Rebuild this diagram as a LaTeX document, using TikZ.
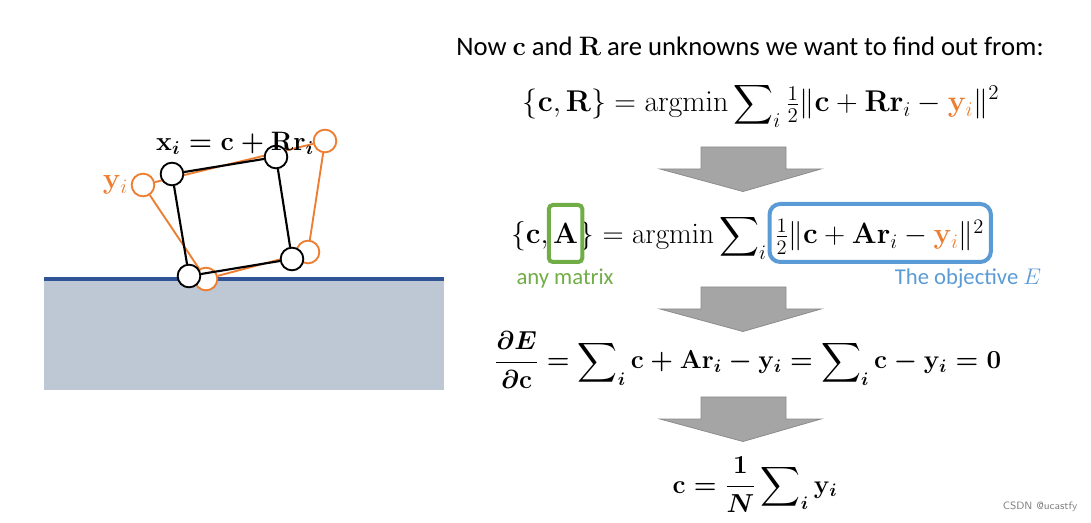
\documentclass[tikz,border=0pt]{standalone}
\usepackage{fix-cm}
\usepackage{amsmath}
\usepackage[no-math]{fontspec}
\setmainfont{Carlito}
\usetikzlibrary{backgrounds,positioning}

\definecolor{orng}{HTML}{ED7D31}
\definecolor{grn}{HTML}{70AD47}
\definecolor{lblue}{HTML}{5B9BD5}
\definecolor{ground}{HTML}{BEC8D4}
\definecolor{groundline}{HTML}{2F5597}
\definecolor{arrowgray}{HTML}{A5A5A5}
\definecolor{arrowedge}{HTML}{8C8C8C}

\tikzset{
  pt/.style={circle,draw,line width=1.4pt,fill=white,minimum size=17,inner sep=0},
  blkpt/.style={pt,draw=black},
  orgpt/.style={pt,draw=orng},
  eq/.style={inner sep=0,font=\fontsize{#1}{26}\selectfont},
  eq/.default=22.5,
  boldeq/.style={inner sep=0,font=\fontsize{#1}{24}\selectfont\boldmath},
  blockarrow/.style={fill=arrowgray,draw=arrowedge,line width=0.6pt},
  markbox/.style={line width=3pt,rounded corners=3pt}
}

\begin{document}
\begin{tikzpicture}[x=0.75pt,y=-0.75pt]
\useasboundingbox (0,0) rectangle (1091,523);

\fill[ground] (44,279) rectangle (444,390);
\draw[groundline,line width=3.5pt] (44,279) -- (444,279);

\node[orgpt] (q1) at (143,185) {};
\node[orgpt] (q2) at (325,141) {};
\node[orgpt] (q3) at (308,252) {};
\node[orgpt] (q4) at (206,279) {};
\node[blkpt] (p1) at (172,174) {};
\node[blkpt] (p2) at (276,157) {};
\node[blkpt] (p3) at (292,259) {};
\node[blkpt] (p4) at (189,276) {};
\begin{scope}[on background layer]
\draw[orng,line width=1.4pt] (q1) -- (q2) -- (q3) -- (q4) -- (q1);
\end{scope}
\draw[line width=1.6pt] (p1) -- (p2) -- (p3) -- (p4) -- (p1);

\node[boldeq=20,anchor=base] (xlab) at (235,151)
  {$\mathbf{x}_i=\mathbf{c}+\mathbf{R}\mathbf{r}_i$};
\node[eq=22,anchor=east,text=orng] (ylab) at ([xshift=-2]q1.west) {$\mathbf{y}_i$};

\node[anchor=base,inner sep=0,font=\fontsize{20}{24}\selectfont] (title) at (750,56)
  {Now $\mathbf{c}$ and $\mathbf{R}$ are unknowns we want to find out from:};

\node[eq,anchor=base] (eq1) at (761,112)
  {$\{\mathbf{c},\mathbf{R}\}=\operatorname{argmin}\displaystyle\sum\nolimits_i\tfrac12\|\mathbf{c}+\mathbf{R}\mathbf{r}_i-{\color{orng}\mathbf{y}_i}\|^2$};

\node[eq=22,anchor=base west] (e2a) at (511,244) {$\{\mathbf{c},$};
\node[eq=22,anchor=base west] (e2A) at ([xshift=3]e2a.base east) {$\mathbf{A}$};
\node[eq=22,anchor=base west] (e2b) at ([xshift=1]e2A.base east)
  {$\}=\operatorname{argmin}\displaystyle\sum\nolimits_i$};
\node[eq=22,anchor=base west] (e2c) at ([xshift=6]e2b.base east)
  {$\tfrac12\|\mathbf{c}+\mathbf{A}\mathbf{r}_i-{\color{orng}\mathbf{y}_i}\|^2$};
\draw[markbox,grn] ([xshift=-3]e2A.west |- 0,205) rectangle ([xshift=3]e2A.east |- 0,262);
\draw[markbox,lblue,rounded corners=8pt] ([xshift=-4]e2c.west |- 0,204) rectangle ([xshift=5]e2c.east |- 0,262);
\node[text=grn,font=\fontsize{17}{20}\selectfont] (anymat) at (565,279) {any matrix};
\node[text=lblue,font=\fontsize{17}{20}\selectfont] (objE) at (968,279) {The objective $E$};

\node[boldeq=19.5,anchor=base] (eq3) at (748,369)
  {$\dfrac{\partial E}{\partial\mathbf{c}}=\displaystyle\sum\nolimits_i\mathbf{c}+\mathbf{A}\mathbf{r}_i-\mathbf{y}_i=\sum\nolimits_i\mathbf{c}-\mathbf{y}_i=\mathbf{0}$};

\node[boldeq=19.5,anchor=base] (eq4) at (755,493)
  {$\mathbf{c}=\dfrac{1}{N}\displaystyle\sum\nolimits_i\mathbf{y}_i$};

\foreach \y in {147,287,397}
  \draw[blockarrow] (701,\y) -- (786,\y) -- (786,\y+22) -- (821,\y+22) -- (743,\y+44.5)
    -- (660,\y+22) -- (701,\y+22) -- cycle;

\node[text=gray,font=\sffamily\fontsize{8}{10}\selectfont] (mark) at (1040,507) {CSDN @ucastfy};
\end{tikzpicture}
\end{document}
